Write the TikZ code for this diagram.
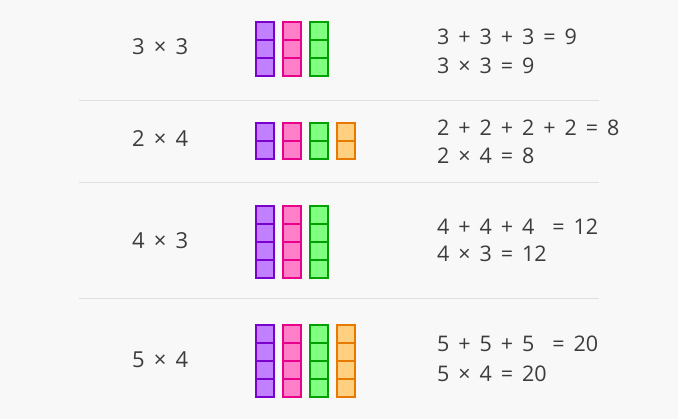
\documentclass[tikz,border=0pt]{standalone}
\usepackage{fontspec}
\setmainfont{Open Sans}[WordSpace=1.6]
\usepackage{xcolor}
\usetikzlibrary{positioning}

\definecolor{bgcol}{HTML}{F8F8F8}
\definecolor{txt}{HTML}{3C3C3C}
\definecolor{rulecol}{HTML}{E0E0E0}
\definecolor{purpleline}{HTML}{7A00CC}
\definecolor{purplefill}{HTML}{C080FF}
\definecolor{pinkline}{HTML}{E6008A}
\definecolor{pinkfill}{HTML}{FF80C8}
\definecolor{greenline}{HTML}{00A000}
\definecolor{greenfill}{HTML}{80FF80}
\definecolor{orangeline}{HTML}{E87800}
\definecolor{orangefill}{HTML}{FFD080}

\tikzset{
  lbl/.style={anchor=west, inner sep=0pt, text=txt, font=\fontsize{22}{26}\selectfont},
  eqn/.style={lbl, font=\fontsize{21.5}{26}\selectfont},
  rowline/.style={rulecol, line width=1.5pt},
  cell/.style={line width=2pt},
}

% x, top, number of cells, colour
\newcommand\cellbar[4]{%
  \foreach \k in {1,...,#3}
    \draw[cell, draw=#4line, fill=#4fill] (#1,{#2+18*(\k-1)}) rectangle ++(18,18);
}

\begin{document}
\begin{tikzpicture}[x=1pt, y=-1pt]
            \fill[bgcol] (0,0) rectangle (678,419);
            \useasboundingbox (0,0) rectangle (678,419);

            % separators
            \draw[rowline] (79,100.5) -- (599,100.5);
            \draw[rowline] (79,182.5) -- (599,182.5);
            \draw[rowline] (79,298.5) -- (599,298.5);

            % 3 x 3
            \node[lbl] (rowA) at (132,46.5) {3 × 3};
            \cellbar{256}{22}{3}{purple}
            \cellbar{283}{22}{3}{pink}
            \cellbar{310}{22}{3}{green}
            \node[eqn] (sumA) at (437,36.5) {3 + 3 + 3 = 9};
            \node[eqn] (prodA) at (437,65.5) {3 × 3 = 9};

            % 2 x 4
            \node[lbl] (rowB) at (132,139) {2 × 4};
            \cellbar{256}{123}{2}{purple}
            \cellbar{283}{123}{2}{pink}
            \cellbar{310}{123}{2}{green}
            \cellbar{337}{123}{2}{orange}
            \node[eqn] (sumB) at (437,128) {2 + 2 + 2 + 2 = 8};
            \node[eqn] (prodB) at (437,155.5) {2 × 4 = 8};

            % 4 x 3
            \node[lbl] (rowC) at (132,240.5) {4 × 3};
            \cellbar{256}{206}{4}{purple}
            \cellbar{283}{206}{4}{pink}
            \cellbar{310}{206}{4}{green}
            \node[eqn] (sumC) at (437,226.5) {4 + 4 + 4\ \ = 12};
            \node[eqn] (prodC) at (437,254) {4 × 3 = 12};

            % 5 x 4
            \node[lbl] (rowD) at (132,359.5) {5 × 4};
            \cellbar{256}{325}{4}{purple}
            \cellbar{283}{325}{4}{pink}
            \cellbar{310}{325}{4}{green}
            \cellbar{337}{325}{4}{orange}
            \node[eqn] (sumD) at (437,344) {5 + 5 + 5\ \ = 20};
            \node[eqn] (prodD) at (437,374) {5 × 4 = 20};
        \end{tikzpicture}
\end{document}
